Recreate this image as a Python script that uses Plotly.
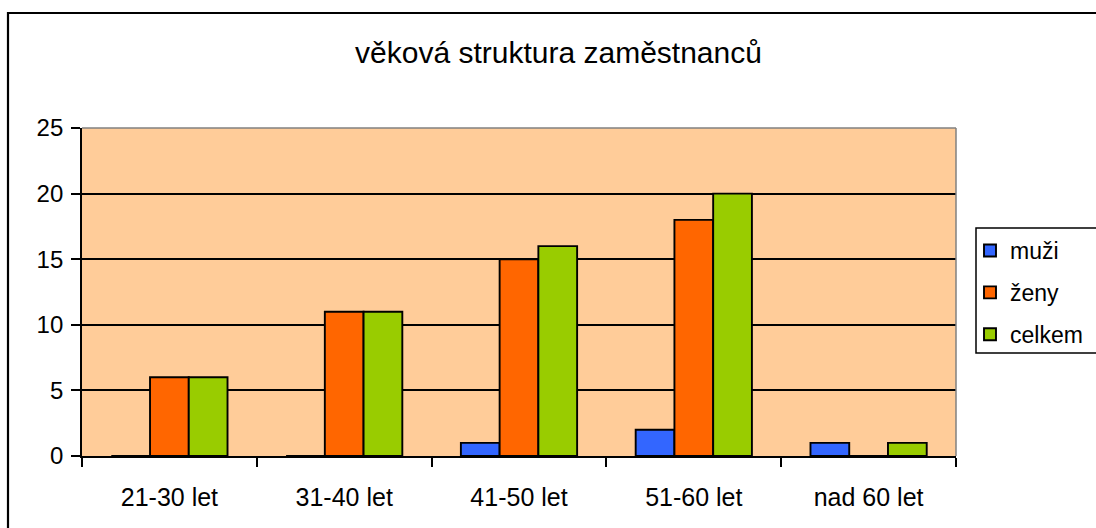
import plotly.graph_objects as go

categories = ["21-30 let", "31-40 let", "41-50 let", "51-60 let", "nad 60 let"]
muzi = [0, 0, 1, 2, 1]
zeny = [6, 11, 15, 18, 0]
celkem = [6, 11, 16, 20, 1]
series_names = ["muži", "ženy", "celkem"]
series_colors = ["#3366FF", "#FF6600", "#99CC00"]
y_ticks = [0, 5, 10, 15, 20, 25]
title_text = "věková struktura zaměstnanců"

FONT = "Arial, Liberation Sans, sans-serif"

L, R, T, B = 82, 956, 128, 456
PW, PH = R - L, B - T

def px(x):
    return (x - L) / PW

def py(y):
    return (B - y) / PH

fig = go.Figure()
for name, vals, col in zip(series_names, [muzi, zeny, celkem], series_colors):
    fig.add_trace(go.Bar(
        x=categories, y=vals, name=name, legendgroup=name,
        marker=dict(color=col, line=dict(color="black", width=1.9)),
    ))

fig.update_layout(
    width=1096, height=528,
    margin=dict(l=L, r=1096 - R, t=T, b=528 - B, autoexpand=False),
    paper_bgcolor="white",
    plot_bgcolor="#FFCC99",
    barmode="group", bargap=0.335, bargroupgap=0,
    font=dict(family=FONT, color="black", size=24),
    title=dict(text=title_text, x=558.5 / 1096, xref="container", xanchor="center",
               y=1 - 52 / 528, yref="container", yanchor="middle",
               font=dict(size=30, family=FONT, color="black")),
    legend=dict(x=px(970), xanchor="left", y=py(229), yanchor="top",
                borderwidth=0, bgcolor="rgba(0,0,0,0)",
                font=dict(size=23, family=FONT), tracegroupgap=9,
                itemwidth=30),
    xaxis=dict(type="category", tickson="boundaries", ticks="outside", ticklen=9,
               tickwidth=1.5, tickcolor="black", showline=True, linecolor="black",
               linewidth=1.8, showgrid=False, ticklabelstandoff=18,
               tickfont=dict(size=25, family=FONT)),
    yaxis=dict(range=[0, 25], tickvals=y_ticks, ticks="outside", ticklen=9, tickwidth=1.5,
               tickcolor="black", showline=True, linecolor="black", linewidth=1.8,
               showgrid=True, gridcolor="black", gridwidth=1.5, zeroline=False,
               ticklabelstandoff=3, tickfont=dict(size=24, family=FONT)),
    shapes=[
        dict(type="line", xref="paper", yref="paper", x0=0, x1=1, y0=1, y1=1,
             line=dict(color="#808080", width=1.5), layer="above"),
        dict(type="line", xref="paper", yref="paper", x0=1, x1=1, y0=0, y1=1,
             line=dict(color="#808080", width=1.5), layer="above"),
        dict(type="rect", xref="paper", yref="paper",
             x0=px(8), x1=px(1400), y0=py(13), y1=py(900),
             line=dict(color="black", width=2.2), layer="above"),
        dict(type="rect", xref="paper", yref="paper",
             x0=px(976), x1=px(1200), y0=py(228), y1=py(353),
             fillcolor="white", line=dict(color="black", width=1.5), layer="below"),
    ],
)

fig.write_html("out.html", config={"displayModeBar": False})

with open("out.html", "r", encoding="utf-8") as f:
    html = f.read()
html = html.replace("<body>", '<body style="margin:0;overflow:hidden">', 1)
with open("out.html", "w", encoding="utf-8") as f:
    f.write(html)
